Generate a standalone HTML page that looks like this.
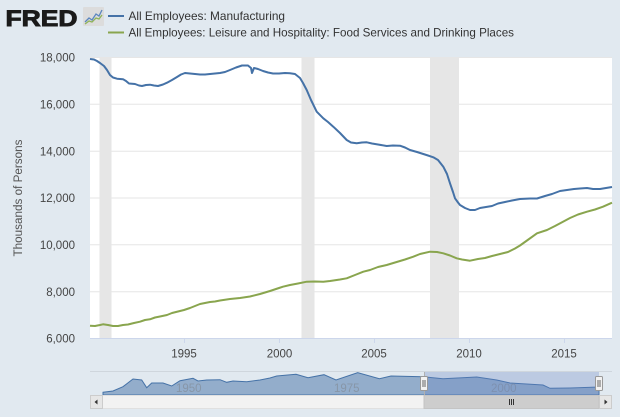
<!DOCTYPE html>
<html><head><meta charset="utf-8"><style>
html,body{margin:0;padding:0;background:#e1e9f0;}
svg{display:block;font-family:"Liberation Sans",sans-serif;}
</style></head><body>
<svg width="620" height="417" viewBox="0 0 620 417" xmlns="http://www.w3.org/2000/svg">
<rect x="0" y="0" width="620" height="417" fill="#e1e9f0"/>
<!-- FRED logo -->
<text x="5.5" y="26" font-size="22" font-weight="bold" fill="#1a1a1a" stroke="#1a1a1a" stroke-width="0.9" textLength="72" lengthAdjust="spacingAndGlyphs">FRED</text>
<rect x="83" y="7" width="21" height="19" fill="#dcdcdc" rx="1"/>
<polyline points="85,22 89,18 92,20 96,14 99,16 102,10" fill="none" stroke="#5b86bf" stroke-width="1.3"/>
<polyline points="85,24 89,21 92,22 96,18 99,19 102,15" fill="none" stroke="#8fb35a" stroke-width="1.3"/>
<!-- legend -->
<line x1="108" y1="16" x2="124" y2="16" stroke="#4572a7" stroke-width="2"/>
<text x="128.5" y="20" font-size="12" fill="#333" textLength="156.5" lengthAdjust="spacingAndGlyphs">All Employees: Manufacturing</text>
<line x1="108" y1="32.5" x2="124" y2="32.5" stroke="#89a54e" stroke-width="2"/>
<text x="128.5" y="36.5" font-size="12" fill="#333" textLength="385.5" lengthAdjust="spacingAndGlyphs">All Employees: Leisure and Hospitality: Food Services and Drinking Places</text>
<!-- plot area -->
<rect x="90" y="57" width="522" height="281" fill="#ffffff"/>
<!-- recessions -->
<rect x="99.5" y="57" width="12" height="281" fill="#e6e6e6"/>
<rect x="301.5" y="57" width="13" height="281" fill="#e6e6e6"/>
<rect x="430" y="57" width="29" height="281" fill="#e6e6e6"/>
<!-- gridlines -->
<g stroke="#e6e6e6" stroke-width="1">
<line x1="90" y1="104.3" x2="612" y2="104.3"/>
<line x1="90" y1="151.2" x2="612" y2="151.2"/>
<line x1="90" y1="198" x2="612" y2="198"/>
<line x1="90" y1="244.8" x2="612" y2="244.8"/>
<line x1="90" y1="291.7" x2="612" y2="291.7"/>
</g>
<line x1="90" y1="57.5" x2="612" y2="57.5" stroke="#e6e6e6"/>
<line x1="90" y1="338.5" x2="612" y2="338.5" stroke="#ccd6eb"/>
<g stroke="#ccd6eb"><line x1="184.5" y1="338" x2="184.5" y2="343"/><line x1="279.5" y1="338" x2="279.5" y2="343"/><line x1="374.5" y1="338" x2="374.5" y2="343"/><line x1="469.5" y1="338" x2="469.5" y2="343"/><line x1="564.5" y1="338" x2="564.5" y2="343"/></g>
<!-- y labels -->
<g font-size="11.5" fill="#444" text-anchor="end">
<text x="75" y="61.5">18,000</text>
<text x="75" y="108.5">16,000</text>
<text x="75" y="155.3">14,000</text>
<text x="75" y="202">12,000</text>
<text x="75" y="249">10,000</text>
<text x="75" y="295.8">8,000</text>
<text x="75" y="342.5">6,000</text>
</g>
<text transform="translate(22,198) rotate(-90)" font-size="11.5" fill="#555" text-anchor="middle" textLength="117" lengthAdjust="spacingAndGlyphs">Thousands of Persons</text>
<!-- x labels -->
<g font-size="11.5" fill="#444" text-anchor="middle">
<text x="184" y="357.5">1995</text>
<text x="279.5" y="357.5">2000</text>
<text x="374" y="357.5">2005</text>
<text x="469" y="357.5">2010</text>
<text x="564" y="357.5">2015</text>
</g>
<!-- series -->
<polyline fill="none" stroke="#4572a7" stroke-width="2" stroke-linejoin="round" points="90,59 94,59.5 97,61 100,63 104,66 107,70 110,75 113,77.5 117,78.7 123,79.2 126,81 129,83.5 135,84 139,85.5 142,86 146,85 150,84.7 154,85.5 158,86 163,84.5 167,82.7 172,80 177,77 181,74.5 185,73 190,73.5 195,74 200,74.5 205,74.5 210,74 215,73.5 220,73 225,72 230,70 236,67.5 242,65.5 248,65.5 251,68 252,73 254,68 258,69 263,71 268,72.5 273,73.5 279,73.5 285,73 290,73.3 295,74 300,78 303,83 306.7,90 311,100 316.7,111.7 323.3,118.3 328,122 333.3,126.7 340,133 346.7,140 351,142.5 356.7,143.3 362,142.5 366.7,142.3 372,143.5 378,144.5 386.7,146 393,145.5 400,145.7 405,147.5 410,150 417,152 423.3,154 428,155.5 433.3,157.3 438,160 443.3,166.7 447,174 450,183.3 453,192 455,198.3 458,202.5 460,205 465,208 470,210 475,210 480,208 486,207 492,206 498,203.5 505,202 512,200.5 520,199 530,198.5 537,198.5 545,196 552,194 560,191 567,190 574,189 580,188.5 587,188 593,189 600,189 606,188 612,187"/>
<polyline fill="none" stroke="#89a54e" stroke-width="2" stroke-linejoin="round" points="90,325.7 95,326 100,325 103,324.3 108,325 113,326 118,326 123,325 128,324.5 134,323 140,321.7 145,320 150,319.3 155,317.5 160,316.5 167,315 172,313 178,311.5 184,310 190,308 200,304 205,303 210,302 215,301.5 220,300.5 230,299 240,298 250,296.5 260,294 270,291 279,288 283,286.7 290,285 298,283.5 306.7,281.7 315,281.5 323.3,281.7 330,281 340,279.5 346.7,278.3 355,275 363.3,271.7 370,270 378,267 386.7,265 395,262.5 405,259.5 413.3,256.7 420,254 430,251.7 437,252 443.3,253.3 450,255.5 456.7,258.3 462,259.5 470,260.7 478,259 485,258 492,256 500,254 508,252 515,248.5 520,245.5 527,240.5 537,233.3 547,230 555,226 563,221.7 570,218 578,214.5 587,211.7 595,209.5 603,206.7 612,202.7"/>
<!-- navigator -->
<line x1="90" y1="371.5" x2="612" y2="371.5" stroke="#cfd6dd" stroke-width="1"/>
<path fill="#93adcb" stroke="#4572a7" stroke-width="1" d="M103,392.3 L113,391 L123,386.7 L133,379 L141.7,380 L146.7,387.7 L151.7,383 L163,383 L171.7,386 L180,380.7 L193,378.3 L198,381 L206.7,380 L220,379.7 L226.7,382.3 L233,381 L246.7,381.7 L260,380 L270,378 L276.7,376 L296,374.3 L308,377.7 L324,374.7 L336,380 L357.7,372.7 L379.4,378.7 L391,376 L423,376.7 L443,378.7 L476.7,377 L496.7,380 L510,383 L543,385 L550,388.3 L570,388 L599,387 L599,395 L103,395 Z"/>
<text x="176" y="392" font-size="11.5" fill="#8796a8">1950</text>
<text x="334" y="392" font-size="11.5" fill="#8796a8">1975</text>
<text x="491" y="392" font-size="11.5" fill="#8796a8">2000</text>
<rect x="424" y="372" width="175" height="23" fill="rgb(102,133,194)" fill-opacity="0.3"/>
<!-- scrollbar -->
<rect x="90.5" y="395.5" width="521" height="13" fill="#f2f2f2" stroke="#e0e0e0"/>
<rect x="424" y="395.5" width="175" height="13" fill="#cdcdcd" stroke="#c4c4c4"/>
<g stroke="#333" stroke-width="1"><line x1="509.5" y1="399" x2="509.5" y2="405"/><line x1="511.5" y1="399" x2="511.5" y2="405"/><line x1="513.5" y1="399" x2="513.5" y2="405"/></g>
<rect x="90.5" y="395.5" width="12" height="13" fill="#e6e6e6" stroke="#cccccc"/>
<path d="M97.5,399.5 L94.5,402 L97.5,404.5 Z" fill="#333"/>
<rect x="599.5" y="395.5" width="12" height="13" fill="#e6e6e6" stroke="#cccccc"/>
<path d="M604.5,399.5 L607.5,402 L604.5,404.5 Z" fill="#333"/>
<!-- handles -->
<line x1="424.5" y1="372" x2="424.5" y2="395" stroke="#b0b0b0"/>
<rect x="420.5" y="376.5" width="7" height="14" fill="#f2f2f2" stroke="#999" rx="1"/>
<line x1="423" y1="380" x2="423" y2="387" stroke="#666"/><line x1="425" y1="380" x2="425" y2="387" stroke="#666"/>
<rect x="595.5" y="376.5" width="7" height="14" fill="#f2f2f2" stroke="#999" rx="1"/>
<line x1="598" y1="380" x2="598" y2="387" stroke="#666"/><line x1="600" y1="380" x2="600" y2="387" stroke="#666"/>
</svg>
</body></html>
